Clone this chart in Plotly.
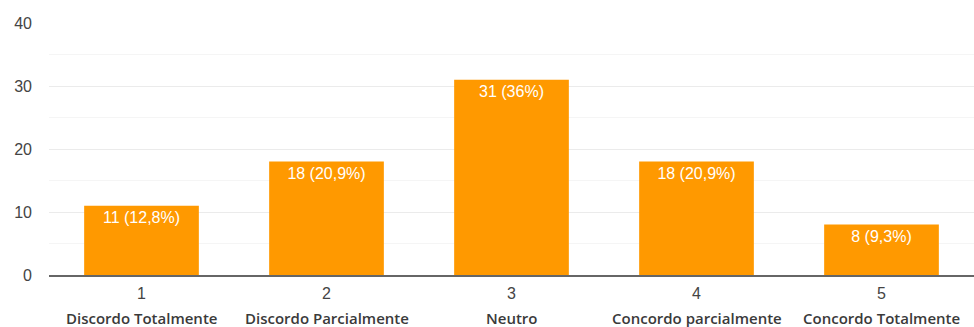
import plotly.graph_objects as go

categories = ["1", "2", "3", "4", "5"]
descriptions = ["Discordo Totalmente", "Discordo Parcialmente", "Neutro",
                "Concordo parcialmente", "Concordo Totalmente"]
counts = [11, 18, 31, 18, 8]
percent_labels = ["12,8%", "20,9%", "36%", "20,9%", "9,3%"]

bar_text = [f"{c} ({p})" for c, p in zip(counts, percent_labels)]

fig = go.Figure()
fig.add_trace(go.Bar(
    x=categories,
    y=counts,
    text=bar_text,
    textposition="inside",
    insidetextanchor="end",
    textangle=0,
    textfont=dict(family="Arial, Liberation Sans", size=16, color="white"),
    marker=dict(color="#ff9900", line=dict(width=0)),
    width=0.62,
    cliponaxis=False,
))

# descriptive label under each category number
for i, desc in enumerate(descriptions):
    fig.add_annotation(
        x=i, y=0, xref="x", yref="y",
        text=desc, showarrow=False,
        yanchor="top", yshift=-31,
        font=dict(family="Open Sans, Noto Sans", size=15, color="#3a3a3a", weight=600),
    )

fig.update_layout(
    width=974, height=327,
    margin=dict(l=49, r=0, t=23, b=52),
    paper_bgcolor="white",
    plot_bgcolor="white",
    showlegend=False,
    bargap=0.38,
)
fig.update_xaxes(
    type="category",
    showgrid=False,
    showline=True, linecolor="#666", linewidth=2,
    ticks="", ticklabelstandoff=3,
    tickfont=dict(family="Arial, Liberation Sans", size=16, color="#444"),
)
fig.update_yaxes(
    range=[0, 40],
    tickvals=[0, 10, 20, 30, 40],
    showgrid=True, gridcolor="#ebebeb", gridwidth=1,
    minor=dict(tickvals=[5, 15, 25, 35], showgrid=True, gridcolor="#f5f5f5", gridwidth=1),
    zeroline=False,
    ticks="", ticklabelstandoff=16,
    tickfont=dict(family="Arial, Liberation Sans", size=16, color="#444"),
)

fig.write_html("out.html")
